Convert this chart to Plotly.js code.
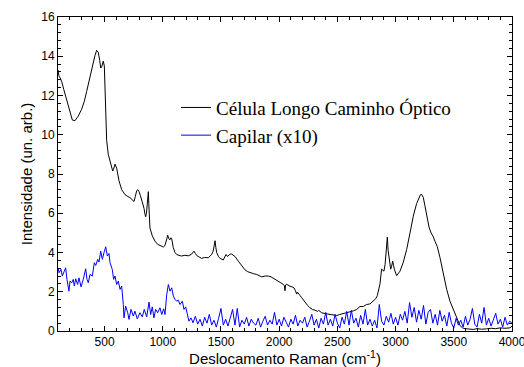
<!DOCTYPE html>
<html>
<head>
<meta charset="utf-8">
<script src="https://cdn.plot.ly/plotly-3.0.1.min.js"></script>
<style>html,body{margin:0;padding:0;background:#fff;}#chart{width:524px;height:367px;}</style>
</head>
<body>
<div id="chart"></div>
<script>
// Black: Célula Longo Caminho Óptico
const cellX = [100,108,118,132,150,175,200,223,246,274,303,326,346,375,398,418,432,446,458,467,475,482,489,498,504,510,518,532,553,570,580,590,604,624,647,676,700,718,735,753,764,776,786,796,808,819,830,839,847,853,860,867,872,876,880,884,890,910,933,955,976,990,1005,1018,1028,1035,1042,1052,1062,1070,1077,1085,1090,1105,1119,1140,1162,1190,1219,1245,1268,1280,1291,1310,1334,1360,1391,1420,1432,1440,1449,1456,1463,1478,1492,1520,1543,1555,1563,1580,1592,1620,1649,1678,1706,1730,1749,1780,1807,1830,1850,1880,1907,1930,1949,1970,1992,2015,2035,2045,2050,2055,2064,2080,2093,2110,2127,2140,2150,2157,2164,2180,2193,2222,2245,2265,2285,2308,2330,2340,2365,2400,2437,2465,2494,2520,2551,2580,2608,2640,2666,2694,2723,2751,2780,2808,2830,2843,2856,2866,2875,2880,2890,2900,2910,2917,2924,2929,2936,2946,2958,2966,2975,2982,2989,3009,3038,3066,3095,3124,3152,3181,3204,3214,3224,3238,3252,3267,3287,3305,3324,3340,3358,3381,3410,3439,3467,3496,3525,3553,3575,3596,3630,3668,3700,3740,3783,3820,3860,3897,3940,3983,4000];
const cellY = [13.3,13.0,12.9,12.7,12.3,11.8,11.2,10.75,10.72,10.95,11.3,11.7,12.2,13.0,13.6,14.05,14.3,14.2,13.8,13.4,13.45,13.7,13.75,13.5,11.9,10.5,9.7,9.0,8.6,8.15,8.3,8.5,8.3,7.65,7.2,6.95,6.85,6.8,6.7,6.6,6.85,7.15,7.2,7.1,6.9,6.7,6.5,6.25,5.95,5.82,6.0,6.4,6.8,7.1,6.5,5.9,5.25,4.85,4.58,4.42,4.35,4.3,4.28,4.35,4.5,4.7,4.88,4.7,4.65,4.75,4.7,4.45,4.25,4.0,3.9,3.85,3.82,3.86,3.83,3.9,4.07,3.95,3.85,3.78,3.7,3.75,3.73,3.9,4.05,4.3,4.6,4.25,4.0,3.8,3.7,3.62,3.9,3.8,3.85,3.92,3.92,3.8,3.56,3.32,3.12,3.02,2.97,2.92,2.88,2.8,2.76,2.8,2.8,2.76,2.7,2.62,2.55,2.45,2.38,2.3,2.05,2.35,2.38,2.3,2.28,2.25,2.2,2.05,1.88,1.98,1.9,1.8,1.7,1.45,1.3,1.18,1.1,1.06,1.0,1.05,0.93,0.88,0.84,0.8,0.79,0.84,0.89,0.93,0.96,1.03,1.1,1.25,1.25,1.35,1.38,1.52,1.65,1.8,2.1,2.4,2.9,3.15,3.1,3.05,3.4,3.85,4.4,4.78,4.1,3.65,3.15,3.3,3.56,3.35,3.15,2.82,3.05,3.5,4.15,5.0,5.85,6.5,6.88,6.95,6.96,6.8,6.38,5.85,5.3,5.0,4.8,4.55,4.3,3.75,2.9,2.12,1.52,1.1,0.6,0.28,0.16,0.12,0.1,0.08,0.12,0.09,0.11,0.14,0.12,0.16,0.14,0.16,0.25];

// Blue: Capilar (x10), low-wavenumber part
const capX1 = [100,109,126,137,154,166,177,194,203,218,231,240,252,269,280,298,317,338,349,360,375,395,412,424,441,452,467,481,495,510,524,538,547,566,578,590,604,618,633,647,661,667,681,699,710,727,747,761,781,804,824,841,862,882,896,910,924,939,956,976,991,1008,1019,1034,1048,1062,1077,1091,1105,1119,1134,1148,1168,1182,1197,1211,1225,1242];
const capY1 = [3.22,2.97,3.14,2.8,3.05,3.22,2.63,2.03,2.54,2.46,2.63,2.29,2.66,2.37,2.71,2.25,2.63,3.17,2.63,2.46,2.88,2.8,3.48,3.34,3.65,3.51,4.07,3.65,3.99,4.29,3.82,3.95,3.48,3.14,2.63,2.8,2.37,2.54,2.12,2.29,1.35,0.67,1.27,0.93,0.59,1.1,0.76,1.01,0.62,0.93,0.72,1.1,0.72,1.47,0.84,1.23,0.67,1.1,0.93,1.18,0.84,1.13,0.84,1.86,2.37,2.03,2.2,1.78,1.61,1.52,1.57,1.35,1.52,1.1,1.23,0.76,0.5,0.67];
// Blue: high-wavenumber part
const capX2 = [1260,1280,1300,1320,1340,1360,1380,1400,1420,1440,1460,1480,1500,1520,1540,1560,1580,1600,1620,1640,1660,1680,1700,1720,1740,1760,1780,1800,1820,1840,1860,1880,1900,1920,1940,1960,1980,2000,2020,2040,2060,2080,2100,2120,2140,2160,2180,2200,2220,2240,2260,2280,2300,2320,2340,2360,2380,2400,2420,2440,2460,2480,2500,2520,2540,2560,2580,2600,2620,2640,2660,2680,2700,2720,2740,2760,2780,2800,2820,2840,2860,2880,2900,2920,2940,2960,2980,3000,3020,3040,3060,3080,3100,3120,3140,3160,3180,3200,3220,3240,3260,3280,3300,3320,3340,3360,3380,3400,3420,3440,3460,3480,3500,3520,3540,3560,3580,3600,3620,3640,3660,3680,3700,3720,3740,3760,3780,3800,3820,3840,3860,3880,3900,3920,3940,3960,3980,4000];
const capY2 = [0.42,0.75,0.35,0.6,0.25,0.7,0.4,0.85,
  0.3,0.55,0.2,0.65,1.15,0.3,0.6,0.25,0.75,1.1,
  0.3,1.15,0.2,0.55,0.35,0.7,0.25,0.6,0.4,0.3,
  0.65,0.2,0.5,0.75,0.3,0.55,0.35,0.95,0.3,0.6,
  0.25,0.7,0.45,0.2,0.6,0.35,0.8,0.25,0.55,0.4,
  0.7,0.2,0.5,0.85,0.3,0.6,0.15,0.65,0.35,0.95,
  0.3,0.6,0.25,0.85,0.4,0.15,0.7,0.35,1.0,0.3,
  1.05,0.4,0.65,0.2,0.8,0.35,1.1,0.3,0.6,0.25,
  0.55,0.15,1.35,0.5,0.3,0.75,0.45,0.9,0.35,0.7,
  0.3,0.85,0.55,1.0,0.4,1.45,0.7,1.2,0.45,1.05,
  0.6,1.3,0.35,0.95,1.1,0.4,0.85,0.3,1.05,0.5,
  0.8,0.25,0.95,0.4,0.15,0.65,0.3,0.55,0.2,0.75,
  0.3,0.6,1.15,0.35,0.2,0.85,0.4,1.2,0.3,0.65,
  0.25,0.55,0.9,0.35,0.6,0.2,0.7,0.3,0.5,0.4];

const xTicks = [500,1000,1500,2000,2500,3000,3500,4000];

const traces = [
  {x: cellX, y: cellY, type: 'scatter', mode: 'lines', name: 'Célula Longo Caminho Óptico',
   line: {color: '#000000', width: 1}},
  {x: capX1.concat(capX2), y: capY1.concat(capY2), type: 'scatter', mode: 'lines', name: 'Capilar (x10)',
   line: {color: '#0000ff', width: 1}}
];

const axisFont = {family: 'Liberation Sans, Arial, sans-serif', size: 12, color: '#000'};
const common = {
  showgrid: false, zeroline: false, showline: true, linecolor: '#000', linewidth: 1,
  mirror: 'allticks', ticks: 'inside', ticklen: 5, tickwidth: 1, tickcolor: '#000',
  tickfont: axisFont, ticklabeloverflow: 'allow'
};

const layout = {
  width: 524, height: 367,
  margin: {l: 58, r: 12, t: 17, b: 36, pad: 0},
  paper_bgcolor: '#fff', plot_bgcolor: '#fff',
  showlegend: true,
  legend: {x: 0.26, y: 0.772, xanchor: 'left', yanchor: 'top', bgcolor: 'rgba(0,0,0,0)',
           font: {family: 'Liberation Serif, Times New Roman, serif', size: 19, color: '#000'}},
  xaxis: Object.assign({}, common, {
    range: [100, 4000], tickmode: 'array', tickvals: xTicks, ticktext: xTicks.map(String),
    minor: {dtick: 100, tick0: 0, ticks: 'inside', ticklen: 3, tickcolor: '#000', tickwidth: 1},
    title: {text: 'Deslocamento Raman (cm<sup>-1</sup>)', font: {family: 'Liberation Sans, Arial, sans-serif', size: 15, color: '#000'}, standoff: 4}
  }),
  yaxis: Object.assign({}, common, {
    range: [0, 16], tick0: 0, dtick: 2,
    minor: {dtick: 0.4, ticks: 'inside', ticklen: 3, tickcolor: '#000', tickwidth: 1},
    title: {text: 'Intensidade (un. arb.)', font: {family: 'Liberation Sans, Arial, sans-serif', size: 15, color: '#000'}, standoff: 4}
  })
};

Plotly.newPlot('chart', traces, layout, {displayModeBar: false, staticPlot: true});
</script>
</body>
</html>
